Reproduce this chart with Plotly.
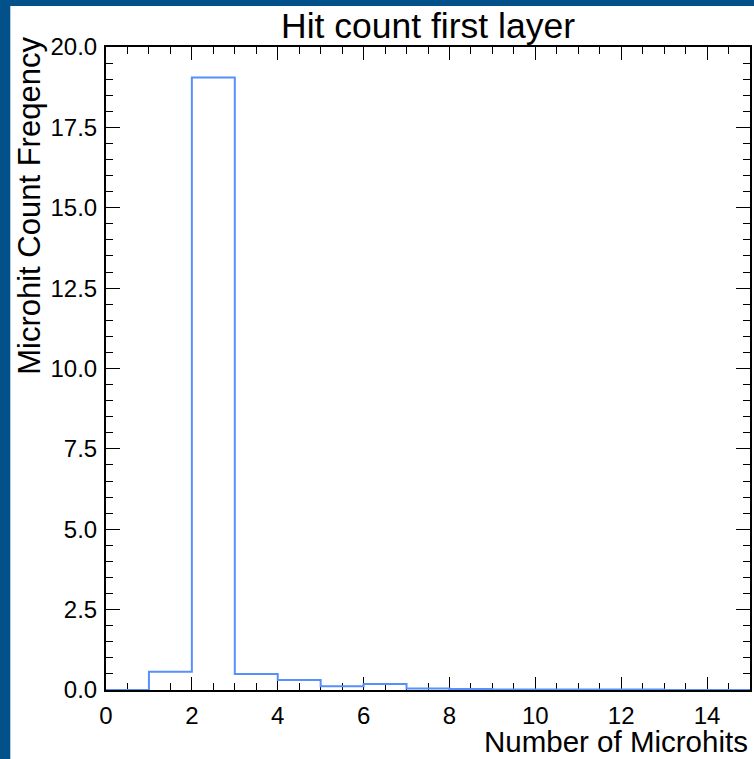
import plotly.graph_objects as go

# ---- data ----
bin_edges = [0, 1, 2, 3, 4, 5, 6, 7, 8, 9, 10, 11, 12, 13, 14, 15]
counts = [0.0, 0.57, 19.05, 0.50, 0.31, 0.12, 0.19, 0.05, 0.03, 0.015, 0.015, 0.015, 0.015, 0.0, 0.0]
title_text = "Hit count first layer"
x_label = "Number of Microhits"
y_label = "Microhit Count Freqency"
x_ticks = [0, 2, 4, 6, 8, 10, 12, 14]
y_ticks = [0.0, 2.5, 5.0, 7.5, 10.0, 12.5, 15.0, 17.5, 20.0]

FONT = "Liberation Sans, Arial, Helvetica, sans-serif"
LINE_COLOR = "#5790fc"
BORDER = "#03518a"

W, H = 754, 759
L, R, T, B = 106, 2, 47, 69
pw = W - L - R
ph = H - T - B

def px_to_paper_x(px):
    return (px - L) / pw

def py_to_paper_y(py):
    return (H - B - py) / ph

fig = go.Figure()
fig.add_trace(go.Scatter(
    x=bin_edges,
    y=counts + [counts[-1]],
    mode="lines",
    line=dict(color=LINE_COLOR, width=2, shape="hv"),
    hoverinfo="skip",
    showlegend=False,
))

axis_common = dict(
    showgrid=False,
    zeroline=False,
    showline=True,
    linecolor="black",
    linewidth=2,
    mirror="allticks",
    ticks="inside",
    tickcolor="black",
    tickwidth=1.3,
    layer="below traces",
    tickfont=dict(family=FONT, size=24, color="black"),
)

fig.update_xaxes(
    range=[0, 15],
    tickmode="array",
    tickvals=x_ticks,
    ticktext=[str(v) for v in x_ticks],
    ticklen=13,
    minor=dict(ticks="inside", dtick=0.5, tick0=0, ticklen=7, tickwidth=1, tickcolor="black"),
    ticklabelstandoff=3,
    **axis_common,
)
fig.update_yaxes(
    range=[0, 20],
    tickmode="array",
    tickvals=y_ticks,
    ticktext=[f"{v:.1f}" for v in y_ticks],
    ticklen=14,
    minor=dict(ticks="inside", dtick=0.5, tick0=0, ticklen=7, tickwidth=1, tickcolor="black"),
    ticklabelstandoff=2,
    **axis_common,
)

# white page area framed by a blue border (left and top)
fig.add_shape(
    type="rect", xref="paper", yref="paper", layer="below",
    x0=px_to_paper_x(10), x1=px_to_paper_x(W + 5),
    y0=py_to_paper_y(H + 5), y1=py_to_paper_y(6),
    fillcolor="white", line=dict(width=0),
)

fig.add_annotation(
    text=title_text, xref="paper", yref="paper", x=0.5, y=1.0,
    xanchor="center", yanchor="bottom", showarrow=False, yshift=-1,
    font=dict(family=FONT, size=35.5, color="black"),
)
fig.add_annotation(
    text=x_label, xref="paper", yref="paper", x=1.0, y=py_to_paper_y(723),
    xanchor="right", yanchor="top", showarrow=False,
    font=dict(family=FONT, size=29.5, color="black"),
)
fig.add_annotation(
    text=y_label, xref="paper", yref="paper", x=px_to_paper_x(9), y=py_to_paper_y(35),
    xanchor="left", yanchor="top", showarrow=False, textangle=-90,
    font=dict(family=FONT, size=31, color="black"),
)

fig.update_layout(
    width=W, height=H,
    margin=dict(l=L, r=R, t=T, b=B, pad=0),
    paper_bgcolor=BORDER,
    plot_bgcolor="white",
    showlegend=False,
)

fig.write_html("out.html")
